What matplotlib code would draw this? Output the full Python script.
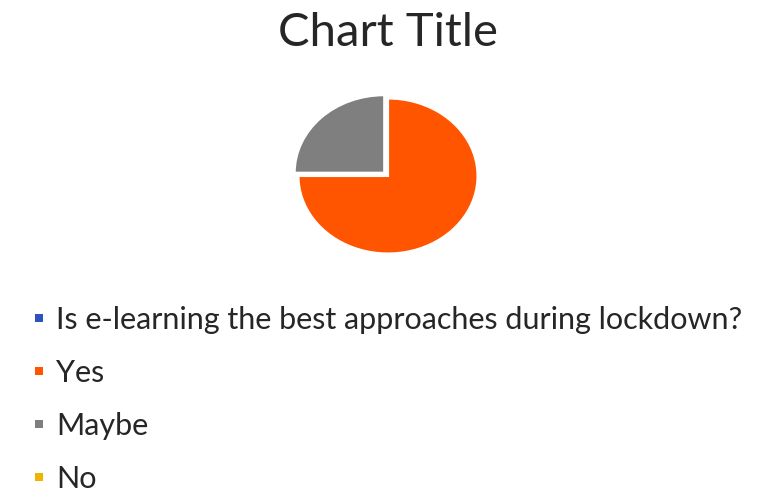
import matplotlib
matplotlib.use("Agg")
import matplotlib.pyplot as plt
from matplotlib.lines import Line2D

plt.rcParams['font.family'] = ['Lato', 'DejaVu Sans']

title = "Chart Title"
categories = ["Is e-learning the best approaches during lockdown?", "Yes", "Maybe", "No"]
values = [0, 75, 25, 0]
colors = ["#2E52C0", "#FF5500", "#7F7F7F", "#F0B400"]
explode = [0, 0, 0.06, 0]

fig = plt.figure(figsize=(7.62, 4.97), dpi=100)

# pie axes, stretched a bit wider than tall like the original
rx, ry = 89.5 / 762, 77.5 / 497
cx, cy = 388 / 762, 1 - 176 / 497
lim = 1.2
ax = fig.add_axes([cx - lim * rx, cy - lim * ry, 2 * lim * rx, 2 * lim * ry])
wedges, _ = ax.pie(values, colors=colors, startangle=90, counterclock=False,
                   explode=explode,
                   wedgeprops=dict(edgecolor="white", linewidth=1.5))
ax.set_aspect('auto')
ax.set_xlim(-lim, lim)
ax.set_ylim(-lim, lim)
ax.axis('off')

fig.text(cx, 1 - 33 / 497, title, ha='center', va='center', fontsize=34, color='#262626')

# small square swatches like the office legend
handles = [Line2D([], [], linestyle='none', marker='s', markersize=6,
                  markerfacecolor=w.get_facecolor(), markeredgewidth=0) for w in wedges]
fig.legend(handles, categories, loc='upper left', bbox_to_anchor=(34 / 762, 1 - 306 / 497),
           frameon=False, fontsize=22, handlelength=0.35, handletextpad=0.38,
           labelspacing=0.82, borderpad=0, borderaxespad=0, labelcolor='#262626')

fig.savefig("out.png", dpi=100)
